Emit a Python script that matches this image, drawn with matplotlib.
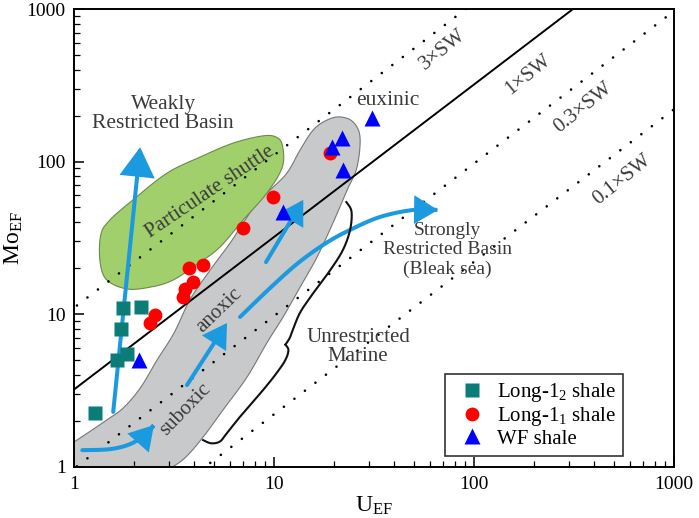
import numpy as np
import matplotlib
matplotlib.use("Agg")
import matplotlib.pyplot as plt
from matplotlib.patches import Polygon, FancyArrowPatch
from matplotlib.path import Path

# ---- data ----
long12_u = [1.27, 1.76, 2.16, 1.72, 1.64, 1.84]
long12_mo = [2.24, 10.9, 11.1, 7.97, 4.99, 5.47]

long11_u = [2.40, 2.54, 3.51, 3.59, 3.94, 3.76, 4.42, 7.0, 9.89, 19.1]
long11_mo = [8.73, 9.85, 12.9, 14.6, 16.2, 20.0, 21.0, 36.6, 58.5, 114]

wf_u = [2.11, 11.1, 19.5, 21.9, 22.1, 30.9]
wf_mo = [4.99, 46.7, 124, 143, 88, 193]

# Mo/U seawater ratio lines
sw_ratio = [11.0, 3.2, 0.97, 0.22]
sw_style = ["dotted", "solid", "dotted", "dotted"]
sw_labels = ["3×SW", "1×SW", "0.3×SW", "0.1×SW"]
sw_label_u = [70, 186, 351, 550]
sw_label_mo = [538, 369, 224, 75.6]

# grey suboxic-anoxic field outline
grey_u = [0.9, 0.9, 1.0, 1.46, 1.78, 2.16, 2.60, 3.16, 3.80, 4.79, 6.03, 7.0,
          8.22, 9.55, 11.6, 13.5, 15.7, 18.4, 21.4, 24.8, 26.9, 26.0, 23.2,
          19.7, 16.4, 13.5, 11.1, 9.2, 7.33, 5.56, 4.42, 3.59, 3.02, 2.8]
grey_mo = [0.9, 1.35, 1.45, 2.02, 2.45, 3.32, 4.99, 7.5, 12.4, 19.4, 29.2, 39.5,
           53.4, 65, 84, 119, 161, 187, 196, 182, 145, 92, 65,
           39.5, 23.6, 15.0, 9.56, 6.45, 3.86, 2.35, 1.56, 1.14, 0.97, 0.9]

# green particulate shuttle field outline
green_u = [1.35, 1.36, 1.51, 1.97, 2.92, 4.27, 6.24, 8.71, 10.2, 11.0, 11.0,
           9.2, 7.0, 5.37, 4.27, 3.13, 2.40, 1.84, 1.46]
green_mo = [21.9, 33, 41.3, 56, 84, 107, 132, 147, 145, 128, 92,
            62, 41.3, 27.5, 21.9, 16.7, 15.0, 14.6, 16.7]

# blue trend arrows
arrow_weak_u = [1.57, 2.14]
arrow_weak_mo = [2.28, 124]
arrow_sub_u = [1.10, 1.51, 1.90, 2.26, 2.51]
arrow_sub_mo = [1.28, 1.30, 1.40, 1.61, 1.87]
arrow_anox_u = [3.67, 5.82]
arrow_anox_mo = [3.42, 8.73]
arrow_eux_u = [9.12, 14.0]
arrow_eux_mo = [21.9, 56]
arrow_strong_u = [6.76, 9.66, 13.2, 18.2, 24.0, 33.9, 49.5, 66.1]
arrow_strong_mo = [9.56, 15.0, 21.6, 29.2, 35.6, 43.3, 48.1, 48.1]

# curly brace (two arms meeting at the tip)
brace_top_u = [23.0, 24.4, 24.0, 22.1, 19.1, 15.7, 13.6, 12.6, 12.0, 11.4]
brace_top_mo = [54.2, 47.0, 35.6, 26.3, 19.4, 13.7, 10.4, 8.3, 7.0, 6.3]
brace_bot_u = [11.4, 11.8, 11.4, 10.3, 8.81, 7.0, 5.82, 5.37, 4.85, 4.42]
brace_bot_mo = [6.3, 5.8, 5.0, 4.1, 3.17, 2.24, 1.66, 1.46, 1.42, 1.49]

tick_values = [1, 10, 100, 1000]
tick_labels = ["1", "10", "100", "1000"]

TEAL = "#0b7c78"
ARROW = "#1b9ae0"
TEXT = "#3a3a3a"


def catmull(xs, ys, closed=False, n=16):
    p = np.column_stack([np.log10(xs), np.log10(ys)])
    if not closed:
        p = np.vstack([p[0], p, p[-1]])
    m = len(p)
    rng = range(m) if closed else range(1, m - 2)
    t = np.linspace(0, 1, n, endpoint=False)[:, None]
    segs = []
    for i in rng:
        p0, p1, p2, p3 = p[i - 1], p[i], p[(i + 1) % m], p[(i + 2) % m]
        segs.append(0.5 * (2 * p1 + (-p0 + p2) * t
                           + (2 * p0 - 5 * p1 + 4 * p2 - p3) * t ** 2
                           + (-p0 + 3 * p1 - 3 * p2 + p3) * t ** 3))
    if not closed:
        segs.append(p[-2][None, :])
    out = 10 ** np.vstack(segs)
    return out[:, 0], out[:, 1]


def blue_arrow(ax, us, mos, scale=13):
    if len(us) > 2:
        us, mos = catmull(us, mos)
    path = Path(np.column_stack([us, mos]))
    arr = FancyArrowPatch(
        path=path,
        arrowstyle="-|>,head_length=1.0,head_width=0.6",
        mutation_scale=scale,
        color=ARROW,
        lw=2.9,
        transform=ax.transData,
        zorder=4,
        joinstyle="miter",
    )
    ax.add_patch(arr)


plt.rcParams.update({
    "font.family": "serif",
    "font.serif": ["Liberation Serif", "DejaVu Serif"],
    "mathtext.fontset": "custom",
    "mathtext.rm": "Liberation Serif",
    "mathtext.it": "Liberation Serif:italic",
})

fig = plt.figure(figsize=(6.99, 5.18), dpi=100)
ax = fig.add_axes([0.1059, 0.0994, 0.8584, 0.8832])
ax.set_xscale("log")
ax.set_yscale("log")
ax.set_xlim(1, 1000)
ax.set_ylim(1, 1000)

# fields
gx, gy = catmull(grey_u, grey_mo, closed=True)
ax.add_patch(Polygon(np.column_stack([gx, gy]), closed=True, fc="#c8c9ca",
                     ec="#777777", lw=0.8, zorder=1))
gx, gy = catmull(green_u, green_mo, closed=True)
ax.add_patch(Polygon(np.column_stack([gx, gy]), closed=True, fc="#a0cf6b",
                     ec="#6c8a4c", lw=0.8, zorder=1))

# seawater lines
u_line = np.array([0.5, 2000.0])
for r, st in zip(sw_ratio, sw_style):
    if st == "solid":
        ax.plot(u_line, r * u_line, color="black", lw=1.4, zorder=3)
    else:
        ax.plot(u_line, r * u_line, color="black", lw=1.9,
                linestyle=(0, (0.01, 5.0)), dash_capstyle="round", zorder=3)
for lab, lu, lm in zip(sw_labels, sw_label_u, sw_label_mo):
    ax.text(lu, lm, lab, rotation=39, ha="center", va="center",
            rotation_mode="anchor", fontsize=15, color=TEXT, zorder=5)

# arrows
blue_arrow(ax, arrow_weak_u, arrow_weak_mo, scale=17)
blue_arrow(ax, arrow_sub_u, arrow_sub_mo)
blue_arrow(ax, arrow_anox_u, arrow_anox_mo)
blue_arrow(ax, arrow_eux_u, arrow_eux_mo)
blue_arrow(ax, arrow_strong_u, arrow_strong_mo)

# brace
for bu, bm in [(brace_top_u, brace_top_mo), (brace_bot_u, brace_bot_mo)]:
    cx, cy = catmull(bu, bm)
    ax.plot(cx, cy, color="#111111", lw=1.5, zorder=4)

# annotations
ax.text(2.79, 205, "Weakly\nRestricted Basin", ha="center", va="center",
        fontsize=15.5, color=TEXT, linespacing=1.05, zorder=5)
ax.text(4.79, 63, "Particulate shuttle", rotation=34, ha="center", va="center",
        rotation_mode="anchor", fontsize=15, color=TEXT, zorder=5)
ax.text(37.2, 253, "euxinic", ha="center", va="center", fontsize=15.5,
        color=TEXT, zorder=5)
ax.text(5.3, 10.6, "anoxic", rotation=44, ha="center", va="center",
        rotation_mode="anchor", fontsize=15, color=TEXT, zorder=5)
ax.text(3.59, 2.35, "suboxic", rotation=46, ha="center", va="center",
        rotation_mode="anchor", fontsize=15, color=TEXT, zorder=5)
ax.text(73.3, 26.3, "Strongly\nRestricted Basin\n(Bleak sea)", ha="center",
        va="center", fontsize=14, color=TEXT, linespacing=1.15, zorder=5)
ax.text(26.3, 6.08, "Unrestricted\nMarine", ha="center", va="center",
        fontsize=15, color=TEXT, linespacing=1.05, zorder=5)

# samples
ax.plot(long12_u, long12_mo, ls="none", marker="s", ms=9.4, color=TEAL,
        mec="none", zorder=6, label=r"Long-1$_{2}$ shale")
ax.plot(long11_u, long11_mo, ls="none", marker="o", ms=10, color="#ff0000",
        mec="none", zorder=6, label=r"Long-1$_{1}$ shale")
ax.plot(wf_u, wf_mo, ls="none", marker="^", ms=11.5, color="#0000ff",
        mec="none", zorder=7, label="WF shale")

leg = ax.legend(loc="lower right", bbox_to_anchor=(0.915, 0.023),
                fontsize=15, frameon=True, fancybox=False, borderpad=0.35,
                labelspacing=0.05, handlelength=1.9, handletextpad=0.25,
                borderaxespad=0)
leg.get_frame().set_edgecolor("black")
leg.get_frame().set_linewidth(1.2)
leg.set_zorder(8)

# axes styling
ax.set_xticks(tick_values)
ax.set_xticklabels(tick_labels)
ax.set_yticks(tick_values)
ax.set_yticklabels(tick_labels)
ax.tick_params(which="major", direction="in", length=7, width=1.1,
               labelsize=14, top=False, right=False)
ax.tick_params(which="minor", direction="in", length=4, width=0.9,
               top=False, right=False)
ax.tick_params(axis="x", pad=7)
ax.tick_params(axis="y", pad=6)
for s in ax.spines.values():
    s.set_linewidth(1.4)

ax.set_xlabel(r"U$_{\mathrm{EF}}$", fontsize=17, labelpad=1)
ax.set_ylabel(r"Mo$_{\mathrm{EF}}$", fontsize=17, labelpad=1)

fig.savefig("out.png", dpi=100)
